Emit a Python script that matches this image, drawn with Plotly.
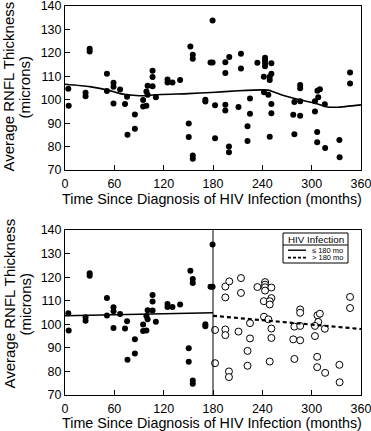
import plotly.graph_objects as go

# ---------------- data ----------------
months = [4, 4.5, 25, 25, 30, 30, 51, 51, 59, 59, 59, 67, 73, 75.5, 76, 85, 85,
          95, 95, 99, 99, 100.5, 100.5, 106.5, 106.5, 106.5, 110.5, 124.7, 124.7,
          130.7, 140, 152.5, 150.5, 150.5, 155.4, 155.4, 155.4, 155.4, 170.7, 170.7,
          177, 179.5, 179.5,
          182.5, 182.5, 195, 199.8, 195, 195, 195, 199.4, 199.4, 211, 214, 214,
          225, 225, 222, 222, 234, 243.3, 243.3, 243.3, 243.3, 251, 251, 241.8,
          249, 249, 242, 247.3, 251, 251, 249, 286, 286, 279, 286, 277.6, 286, 279,
          307, 310, 308, 304, 316, 304, 306.7, 306.7, 316.4, 333.7, 334, 346.7, 346.7]
rnfl = [104.7, 97.4, 103.0, 101.5, 121.7, 120.6, 111.1, 103.7, 107.2, 105.5, 98.4,
        104.4, 98.2, 101.3, 85.0, 93.7, 87.6, 99.9, 97.1, 103.5, 97.4, 106.0, 102.1,
        112.4, 109.7, 105.8, 101.1, 108.6, 107.3, 107.3, 108.4, 122.7, 89.8, 84.1,
        119.2, 117.5, 76.2, 74.8, 100.0, 99.2, 115.9, 115.9, 133.8,
        97.6, 83.5, 116.0, 118.2, 111.4, 97.8, 95.4, 80.0, 77.6, 96.9, 119.6, 113.3,
        100.5, 94.0, 88.7, 82.4, 115.8, 117.9, 116.8, 115.7, 114.3, 115.6, 111.1, 109.8,
        109.8, 108.4, 103.2, 102.1, 98.2, 94.2, 84.2, 106.3, 104.9, 99.0, 99.3, 93.6,
        93.2, 85.3, 103.8, 104.5, 101.0, 99.3, 98.1, 95.0, 86.2, 81.8, 79.4, 82.8, 75.4,
        111.6, 106.9]

# smoothed curve (top panel)
smooth_months = [0, 30, 51, 67, 83, 99, 109, 150, 178, 211, 239, 247, 263, 283, 303, 319, 331, 360]
smooth_values = [106.6, 105.6, 104.2, 102.6, 101.9, 101.7, 102.1, 102.6, 103.1, 103.8,
                 104.2, 104.1, 102.1, 100.2, 98.6, 96.9, 96.8, 97.8]

# fitted lines (bottom panel)
early_fit_months = [0, 180]
early_fit_values = [103.6, 104.9]
late_fit_months = [180, 360]
late_fit_values = [103.6, 98.0]

cutoff = 180
x_ticks = [0, 60, 120, 180, 240, 300, 360]
y_ticks = [70, 80, 90, 100, 110, 120, 130, 140]
x_title = "Time Since Diagnosis of HIV Infection (months)"
y_title_1 = "Average RNFL Thickness"
y_title_2 = "(microns)"
legend_title = "HIV Infection"
legend_labels = ["≤ 180 mo", "> 180 mo"]

early_x = [m for m in months if m <= cutoff]
early_y = [v for m, v in zip(months, rnfl) if m <= cutoff]
late_x = [m for m in months if m > cutoff]
late_y = [v for m, v in zip(months, rnfl) if m > cutoff]

FONT = "Arial, Liberation Sans, Helvetica, sans-serif"

fig = go.Figure()

# top panel
fig.add_trace(go.Scatter(x=months, y=rnfl, mode="markers", xaxis="x", yaxis="y",
                         marker=dict(color="black", size=6), showlegend=False))
fig.add_trace(go.Scatter(x=smooth_months, y=smooth_values, mode="lines", xaxis="x", yaxis="y",
                         line=dict(color="black", width=1.6, shape="spline", smoothing=0.6),
                         showlegend=False))

# bottom panel
fig.add_trace(go.Scatter(x=early_x, y=early_y, mode="markers", xaxis="x2", yaxis="y2",
                         marker=dict(color="black", size=6), showlegend=False))
fig.add_trace(go.Scatter(x=late_x, y=late_y, mode="markers", xaxis="x2", yaxis="y2",
                         marker=dict(color="white", size=7, line=dict(color="black", width=1)),
                         showlegend=False))
fig.add_trace(go.Scatter(x=early_fit_months, y=early_fit_values, mode="lines", xaxis="x2", yaxis="y2",
                         line=dict(color="black", width=1.6), showlegend=False))
fig.add_trace(go.Scatter(x=late_fit_months, y=late_fit_values, mode="lines", xaxis="x2", yaxis="y2",
                         line=dict(color="black", width=2.2, dash="4px,3px"), showlegend=False))

axis_common = dict(showline=True, linecolor="black", linewidth=1, mirror=True,
                   ticks="inside", ticklen=5, tickcolor="black", showgrid=False,
                   zeroline=False, automargin=False, ticklabeloverflow="allow",
                   tickfont=dict(size=12.5, color="black", family=FONT))

W, H = 371, 431
L, R, T, B = 65, 10, 6, 36
ph = H - T - B
def py(p):
    return (H - B - p) / ph
def px(p):
    return (p - L) / (W - L - R)

top_dom = [py(170), 1.0]
bot_dom = [0.0, py(230)]

fig.update_layout(
    width=W, height=H, margin=dict(l=L, r=R, t=T, b=B),
    paper_bgcolor="white", plot_bgcolor="white",
    font=dict(family=FONT, color="black"),
    xaxis=dict(domain=[0, 1], range=[0, 360], tickvals=x_ticks, anchor="y",
               ticklabelstandoff=2, **axis_common),
    yaxis=dict(domain=top_dom, range=[70, 140], tickvals=y_ticks, anchor="x", **axis_common),
    xaxis2=dict(domain=[0, 1], range=[0, 360], tickvals=x_ticks, anchor="y2",
                ticklabelstandoff=2, **axis_common),
    yaxis2=dict(domain=bot_dom, range=[70, 140], tickvals=y_ticks, anchor="x2", **axis_common),
    showlegend=False,
)

# vertical cutoff line in bottom panel
fig.add_shape(type="line", xref="x2", yref="y2", x0=cutoff, x1=cutoff, y0=70, y1=140,
              line=dict(color="black", width=1))

ann = []
for yc, xt in [(199, x_title), (423, x_title)]:
    ann.append(dict(text=xt, xref="paper", yref="paper", x=px(211.5), y=py(yc),
                    xanchor="center", yanchor="middle", showarrow=False,
                    font=dict(size=14.3)))
for yc in [87, 304]:
    ann.append(dict(text=y_title_1, xref="paper", yref="paper", x=px(8.5), y=py(yc),
                    xanchor="center", yanchor="middle", textangle=-90, showarrow=False,
                    font=dict(size=15)))
    ann.append(dict(text=y_title_2, xref="paper", yref="paper", x=px(24.5), y=py(yc),
                    xanchor="center", yanchor="middle", textangle=-90, showarrow=False,
                    font=dict(size=15)))

# legend box (bottom panel)
lx0, lx1, ly0, ly1, lsep = 283, 348, 233, 263, 245
fig.add_shape(type="rect", xref="paper", yref="paper", x0=px(lx0), x1=px(lx1),
              y0=py(ly1), y1=py(ly0), line=dict(color="black", width=1), fillcolor="white")
fig.add_shape(type="line", xref="paper", yref="paper", x0=px(lx0), x1=px(lx1),
              y0=py(lsep), y1=py(lsep), line=dict(color="black", width=1))
ann.append(dict(text=legend_title, xref="paper", yref="paper", x=px((lx0 + lx1) / 2), y=py(239.3),
                xanchor="center", yanchor="middle", showarrow=False, font=dict(size=9.8)))
for i, (lab, dash, wd) in enumerate(zip(legend_labels, ["solid", "3px,2px"], [1.4, 1.8])):
    yc = 250.2 + i * 7.5
    fig.add_shape(type="line", xref="paper", yref="paper", x0=px(288), x1=px(306),
                  y0=py(yc), y1=py(yc), line=dict(color="black", width=wd, dash=dash))
    ann.append(dict(text=lab, xref="paper", yref="paper", x=px(310), y=py(yc),
                    xanchor="left", yanchor="middle", showarrow=False, font=dict(size=7.5)))

fig.update_layout(annotations=ann)
fig.write_html("out.html", post_script="document.body.style.margin='0';",
               config={"displayModeBar": False})
